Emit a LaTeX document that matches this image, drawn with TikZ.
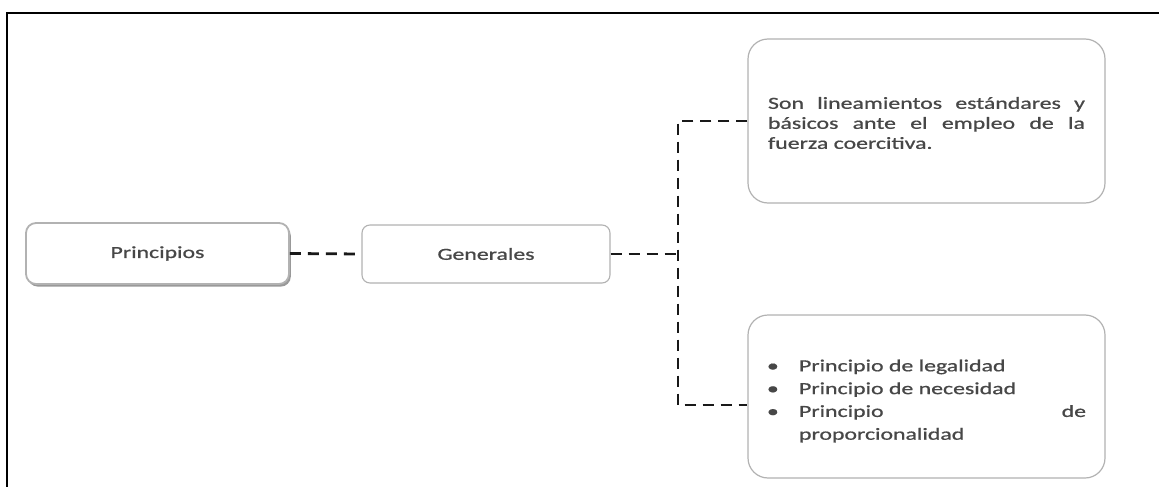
\documentclass[tikz,border=0pt]{standalone}
\usepackage{fontspec}
\setmainfont{Carlito}[FakeBold=0.7]
\usetikzlibrary{shadows}

% wide lettering: the text is set in a horizontally stretched Calibri-like face
\newcommand\widetext[1]{\scalebox{1.4}[1]{#1}}

\tikzset{
  txt/.style={text=black!72, font=\fontsize{17}{20}\selectfont, inner sep=0pt},
  mainbox/.style={txt, rounded corners=10pt, draw=gray!60, line width=1.8pt, fill=white,
    drop shadow={shadow xshift=1.8pt, shadow yshift=-2.6pt, fill=gray!80, opacity=1}},
  subbox/.style={txt, rounded corners=8pt, draw=gray!60, line width=1.1pt, fill=white},
  infobox/.style={txt, rounded corners=20pt, draw=gray!60, line width=1.2pt, fill=white},
  conn/.style={draw=black!90, line width=2.8pt, dash pattern=on 11pt off 7pt},
  frameline/.style={draw=black, line width=2pt}
}

\begin{document}
\begin{tikzpicture}[x=1pt, y=-1pt]
  \useasboundingbox (0,0) rectangle (1159,487);

  % outer frame (top and left edges)
  \draw[frameline] (7,487) -- (7,13) -- (1159,13);

  % boxes
  \node[mainbox, minimum width=263pt, minimum height=61pt] (prin) at (157.5,253.5)
    {\widetext{Principios}};
  \node[subbox, minimum width=248pt, minimum height=58pt] (gen) at (486,254)
    {\widetext{Generales}};

  \node[infobox, minimum width=357pt, minimum height=164pt] (def) at (926.5,121)
    {\widetext{\begin{minipage}{226.4pt}\fontsize{17}{20}\selectfont\vspace*{4pt}
      \makebox[\linewidth][s]{Son lineamientos estándares y}\\
      \makebox[\linewidth][s]{básicos ante el empleo de la}\\
      fuerza coercitiva.
    \end{minipage}}};

  \node[infobox, minimum width=357pt, minimum height=163pt] (list) at (926.5,396.5)
    {\widetext{\begin{minipage}{227.9pt}\fontsize{17}{22.8}\selectfont\vspace*{9pt}
      \makebox[22.9pt][l]{•}Principio de legalidad\\
      \makebox[22.9pt][l]{•}Principio de necesidad\\
      \makebox[22.9pt][l]{•}\makebox[\dimexpr\linewidth-22.9pt\relax][s]{Principio\hfill de}\\
      \hspace*{22.9pt}proporcionalidad
    \end{minipage}}};

  % connectors
  \coordinate (j) at (678,254);
  \coordinate (listlink) at ([yshift=-8.5pt]list.west);
  \draw[conn] (prin.east) -- (gen.west);
  \draw[conn] (gen.east) -- (j);
  \draw[conn] (def.west) -- (def.west -| j) -- (j |- listlink) -- (listlink);
\end{tikzpicture}
\end{document}
